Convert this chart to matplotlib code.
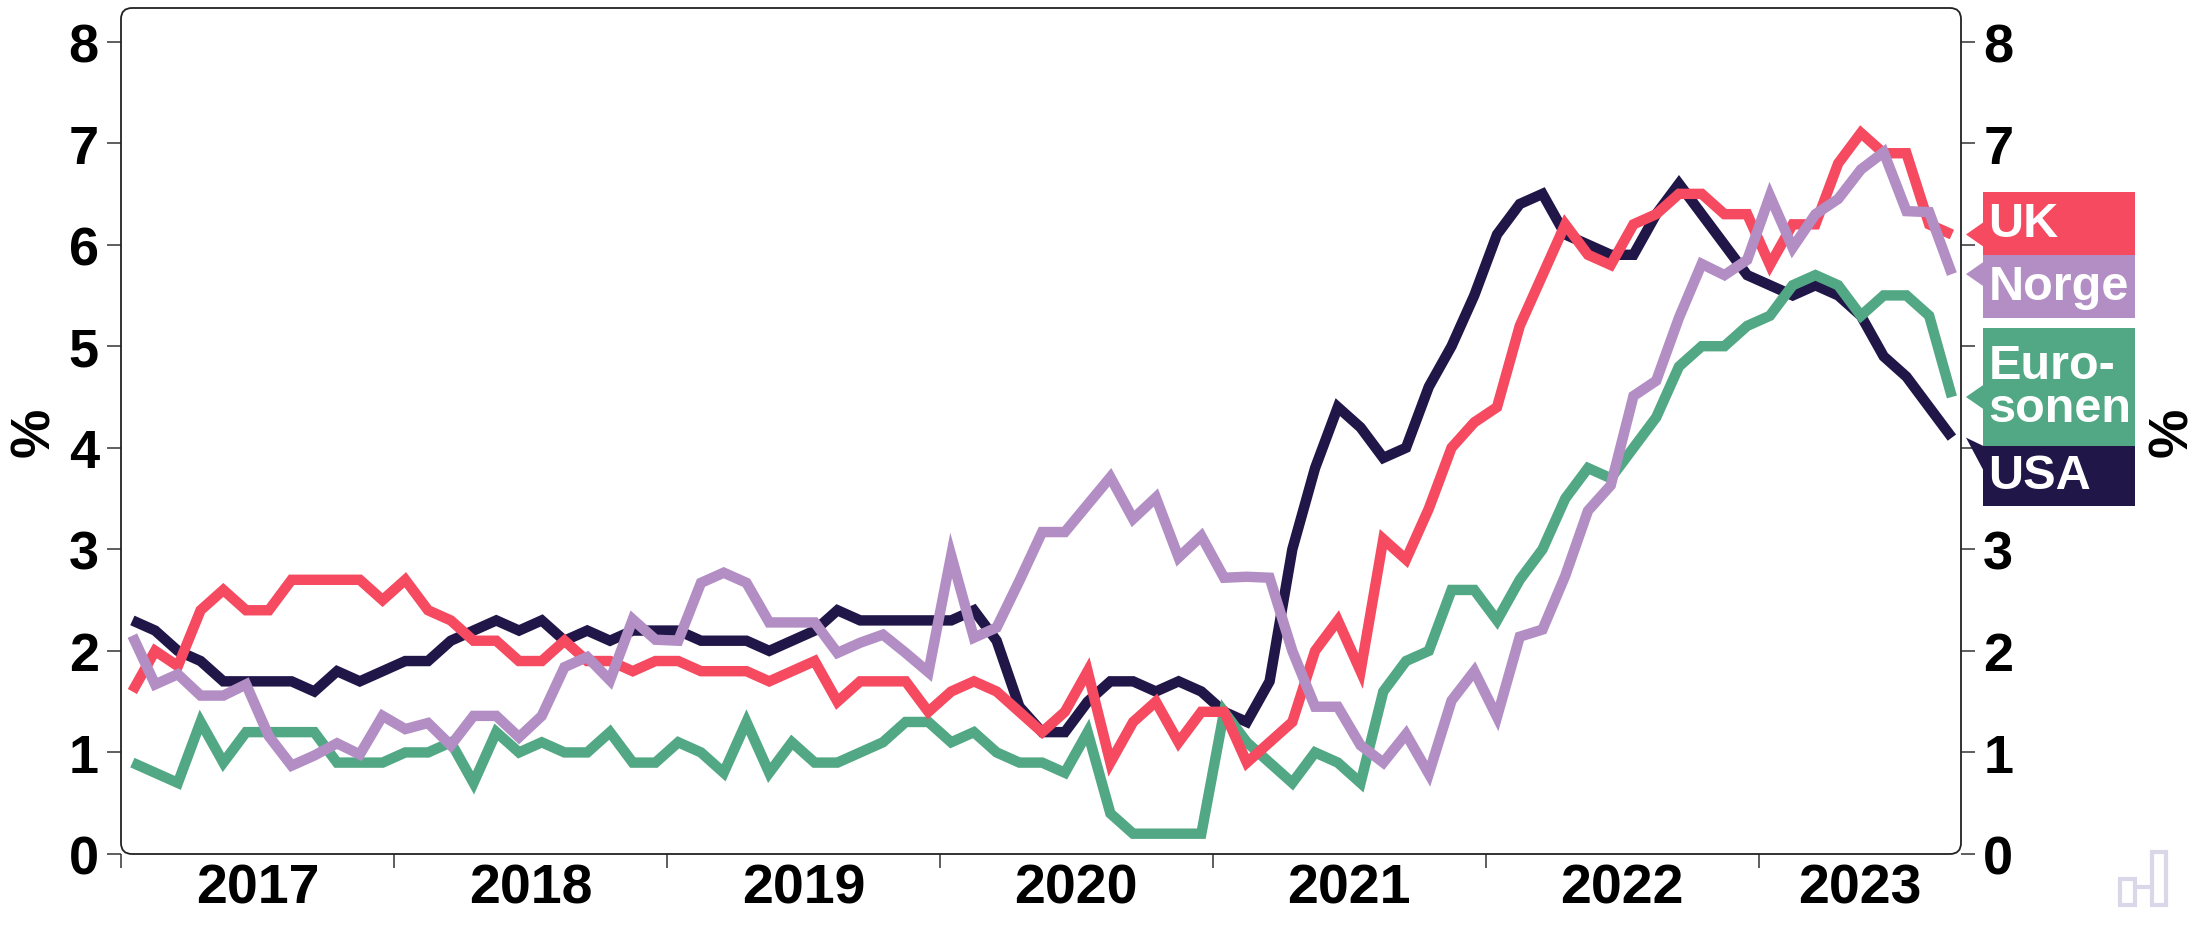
import matplotlib.pyplot as plt
import matplotlib.transforms as mtransforms
import numpy as np
from matplotlib.patches import FancyBboxPatch, Rectangle, Polygon

plt.rcParams['font.family'] = ['Liberation Sans', 'DejaVu Sans']
plt.rcParams['font.weight'] = 'bold'

# monthly values, Jan 2017 - Sep 2023
years = ['2017', '2018', '2019', '2020', '2021', '2022', '2023']

usa = [2.3, 2.2, 2.0, 1.9, 1.7, 1.7, 1.7, 1.7, 1.6, 1.8, 1.7, 1.8,
       1.9, 1.9, 2.1, 2.2, 2.3, 2.2, 2.3, 2.1, 2.2, 2.1, 2.2, 2.2,
       2.2, 2.1, 2.1, 2.1, 2.0, 2.1, 2.2, 2.4, 2.3, 2.3, 2.3, 2.3,
       2.3, 2.4, 2.1, 1.45, 1.2, 1.2, 1.5, 1.7, 1.7, 1.6, 1.7, 1.6,
       1.4, 1.3, 1.7, 3.0, 3.8, 4.4, 4.2, 3.9, 4.0, 4.6, 5.0, 5.5,
       6.1, 6.4, 6.5, 6.1, 6.0, 5.9, 5.9, 6.3, 6.6, 6.3, 6.0, 5.7,
       5.6, 5.5, 5.6, 5.5, 5.3, 4.9, 4.7, 4.4, 4.1]

uk = [1.6, 2.0, 1.85, 2.4, 2.6, 2.4, 2.4, 2.7, 2.7, 2.7, 2.7, 2.5,
      2.7, 2.4, 2.3, 2.1, 2.1, 1.9, 1.9, 2.1, 1.9, 1.9, 1.8, 1.9,
      1.9, 1.8, 1.8, 1.8, 1.7, 1.8, 1.9, 1.5, 1.7, 1.7, 1.7, 1.4,
      1.6, 1.7, 1.6, 1.4, 1.2, 1.4, 1.8, 0.9, 1.3, 1.5, 1.1, 1.4,
      1.4, 0.9, 1.1, 1.3, 2.0, 2.3, 1.8, 3.1, 2.9, 3.4, 4.0, 4.25,
      4.4, 5.2, 5.7, 6.2, 5.9, 5.8, 6.2, 6.3, 6.5, 6.5, 6.3, 6.3,
      5.8, 6.2, 6.2, 6.8, 7.1, 6.9, 6.9, 6.2, 6.1]

norge = [2.15, 1.67, 1.77, 1.56, 1.56, 1.67, 1.16, 0.87, 0.97, 1.09, 0.98, 1.36,
         1.23, 1.29, 1.07, 1.36, 1.36, 1.15, 1.36, 1.84, 1.94, 1.71, 2.31, 2.11,
         2.10, 2.67, 2.77, 2.67, 2.28, 2.28, 2.28, 1.98, 2.08, 2.16, 1.98, 1.79,
         2.94, 2.13, 2.23, 2.69, 3.17, 3.17, 3.44, 3.71, 3.30, 3.51, 2.92, 3.13,
         2.72, 2.73, 2.72, 2.0, 1.45, 1.45, 1.07, 0.90, 1.18, 0.79, 1.51, 1.80,
         1.35, 2.14, 2.21, 2.74, 3.38, 3.63, 4.51, 4.66, 5.28, 5.81, 5.70, 5.85,
         6.48, 5.97, 6.30, 6.45, 6.74, 6.91, 6.33, 6.32, 5.71]

euro = [0.9, 0.8, 0.7, 1.3, 0.9, 1.2, 1.2, 1.2, 1.2, 0.9, 0.9, 0.9,
        1.0, 1.0, 1.1, 0.7, 1.2, 1.0, 1.1, 1.0, 1.0, 1.2, 0.9, 0.9,
        1.1, 1.0, 0.8, 1.3, 0.8, 1.1, 0.9, 0.9, 1.0, 1.1, 1.3, 1.3,
        1.1, 1.2, 1.0, 0.9, 0.9, 0.8, 1.2, 0.4, 0.2, 0.2, 0.2, 0.2,
        1.4, 1.1, 0.9, 0.7, 1.0, 0.9, 0.7, 1.6, 1.9, 2.0, 2.6, 2.6,
        2.3, 2.7, 3.0, 3.5, 3.8, 3.7, 4.0, 4.3, 4.8, 5.0, 5.0, 5.2,
        5.3, 5.6, 5.7, 5.6, 5.3, 5.5, 5.5, 5.3, 4.5]

labels = ['UK', 'Norge', 'Euro-\nsonen', 'USA']
colors = ['#F54A60', '#B28EC4', '#52A884', '#201648']
# label box spans on the right (in y data units)
box_spans = [(5.90, 6.52), (5.28, 5.90), (4.02, 5.18), (3.43, 4.02)]

W, H = 2196, 929
fig = plt.figure(figsize=(W / 100, H / 100), dpi=100)
ax = fig.add_axes([121 / W, 1 - 855 / H, 1840 / W, 846 / H])

x = np.arange(len(usa)) + 0.5
series = [uk, norge, euro, usa]
for idx in [3, 2, 0, 1]:
    ax.plot(x, series[idx], color=colors[idx], lw=7.5, solid_joinstyle='miter',
            solid_capstyle='butt', zorder=3)

ax.set_xlim(0, 80.9)
ax.set_ylim(0, 8.33)

# rounded frame instead of spines
for s in ax.spines.values():
    s.set_visible(False)
frame = FancyBboxPatch((0, 0), 1, 1, boxstyle='round,pad=0,rounding_size=0.006',
                       mutation_aspect=1840 / 846, transform=ax.transAxes,
                       fill=False, ec='#222222', lw=1.3, clip_on=False, zorder=5)
ax.add_patch(frame)

ax.set_xticks(np.arange(0, 73, 12))
ax.set_xticklabels([])
centers = [6 + 12 * i for i in range(6)] + [(72 + 80.9) / 2]
ax.set_xticks(centers, minor=True)
ax.set_xticklabels(years, minor=True)
ax.tick_params(axis='x', which='major', length=10, width=1.1, color='#333333')
ax.tick_params(axis='x', which='minor', length=0, labelsize=40, pad=6)

ax.set_yticks(range(0, 9))
ax.tick_params(axis='y', which='both', left=True, right=True, labelleft=True,
               labelright=True, length=10, width=1.1, color='#333333',
               labelsize=39, pad=6)
for t in ax.get_yticklabels():
    t.set_fontweight('bold')

fig.text(35 / W, 1 - 432 / H, '%', rotation=90, fontsize=40, fontweight='bold',
         ha='center', va='center')
fig.text(2173 / W, 1 - 432 / H, '%', rotation=90, fontsize=40, fontweight='bold',
         ha='center', va='center')

# labels at the line ends
trans = mtransforms.blended_transform_factory(ax.transAxes, ax.transData)
bx0, bx1, tip_x = 1.012, 1.0946, 1.0027
for vals, lab, c, (y0, y1) in zip(series, labels, colors, box_spans):
    ax.add_patch(Rectangle((bx0, y0), bx1 - bx0, y1 - y0, transform=trans,
                           fc=c, ec='none', clip_on=False, zorder=4))
    tip = vals[-1]
    mid = min(max(tip, y0 + 0.14), y1 - 0.14)
    ax.add_patch(Polygon([(tip_x, tip), (bx0 + 0.001, mid + 0.13), (bx0 + 0.001, mid - 0.13)],
                         closed=True, transform=trans, fc=c, ec='none',
                         clip_on=False, zorder=4))
    ax.text(bx0 + 0.003, (y0 + y1) / 2, lab, transform=trans, color='white',
            fontsize=35, fontweight='bold', ha='left', va='center',
            linespacing=0.95, zorder=6)

# faint logo in the corner
logo_c = '#DAD7E8'
fig.add_artist(Rectangle((2152 / W, 1 - 906 / H), 14 / W, 53 / H, transform=fig.transFigure,
                         fill=False, ec=logo_c, lw=3))
fig.add_artist(Rectangle((2120 / W, 1 - 906 / H), 15 / W, 26 / H, transform=fig.transFigure,
                         fill=False, ec=logo_c, lw=3))
fig.add_artist(Rectangle((2135 / W, 1 - 888 / H), 17 / W, 0.5 / H, transform=fig.transFigure,
                         fill=False, ec=logo_c, lw=3))

fig.savefig('out.png', dpi=100)
